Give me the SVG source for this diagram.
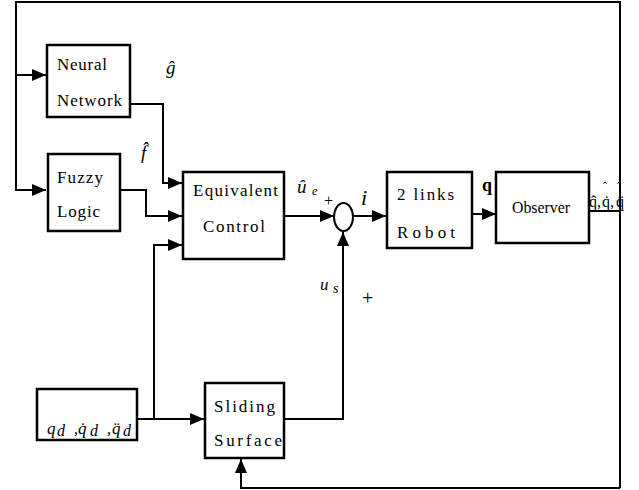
<svg xmlns="http://www.w3.org/2000/svg" width="639" height="490" viewBox="0 0 639 490">
<style>
.box{fill:#fff;stroke:#000;stroke-width:2.5}
.ln{fill:none;stroke:#000;stroke-width:2}
</style>
<defs>
<marker id="ah" markerUnits="userSpaceOnUse" markerWidth="16" markerHeight="14" refX="14" refY="6" orient="auto">
<path d="M0,0 L14,6 L0,12 Z" fill="#000"/>
</marker>
</defs>
<rect width="639" height="490" fill="#fff"/>
<g id="connectors">
<path class="ln" d="M620,488 V2 H16 V190 H46" marker-end="url(#ah)"/>
<path class="ln" d="M16,75 H46" marker-end="url(#ah)"/>
<path class="ln" d="M130,104 H163 V183 H182" marker-end="url(#ah)"/>
<path class="ln" d="M120,190 H146 V216 H182" marker-end="url(#ah)"/>
<path class="ln" d="M154,419 V245 H182" marker-end="url(#ah)"/>
<path class="ln" d="M137,419 H204" marker-end="url(#ah)"/>
<path class="ln" d="M284,419 H343 V232" marker-end="url(#ah)"/>
<path class="ln" d="M284,216 H334" marker-end="url(#ah)"/>
<path class="ln" d="M353,216 H386" marker-end="url(#ah)"/>
<path class="ln" d="M472,214 H496" marker-end="url(#ah)"/>
<path class="ln" d="M589,211 H620"/>
<path class="ln" d="M620,488 H241 V459" marker-end="url(#ah)"/>
</g>
<g font-family="'Liberation Serif', 'Times New Roman', serif" font-size="17" fill="#000">
<g id="neural">
<rect class="box" x="47" y="45" width="83" height="72"/>
<text x="57" y="70" textLength="50">Neural</text>
<text x="57" y="106" textLength="65">Network</text>
</g>
<g id="fuzzy">
<rect class="box" x="48" y="154" width="72" height="77"/>
<text x="57" y="183" textLength="46">Fuzzy</text>
<text x="57" y="217" textLength="43">Logic</text>
</g>
<g id="equivalent">
<rect class="box" x="183" y="172" width="101" height="87"/>
<text x="193" y="196" textLength="85">Equivalent</text>
<text x="203" y="232" textLength="62">Control</text>
</g>
<g id="sum">
<ellipse cx="343.5" cy="217" rx="9.5" ry="14" fill="#fff" stroke="#000" stroke-width="2"/>
</g>
<g id="robot">
<rect class="box" x="387" y="172" width="85" height="76"/>
<text x="397" y="200" textLength="57">2 links</text>
<text x="397" y="238" textLength="58">Robot</text>
</g>
<g id="observer">
<rect class="box" x="496" y="172" width="93" height="71"/>
<text x="512" y="213" textLength="58" lengthAdjust="spacingAndGlyphs">Observer</text>
</g>
<g id="sliding">
<rect class="box" x="205" y="383" width="79" height="75"/>
<text x="214" y="412" textLength="61">Sliding</text>
<text x="214" y="446" textLength="68">Surface</text>
</g>
<g id="reference" font-style="italic">
<rect class="box" x="37" y="389" width="100" height="51"/>
<text x="47" y="434">q</text>
<text x="57" y="436" font-size="16">d</text>
<text x="74" y="434" font-size="16">,</text>
<text x="78" y="434">q̇</text>
<text x="90" y="436" font-size="16">d</text>
<text x="107" y="434" font-size="16">,</text>
<text x="112" y="434">q̈</text>
<text x="123" y="436" font-size="16">d</text>
</g>
<g id="labels">
<text x="166" y="74" font-size="19" font-style="italic">ĝ</text>
<text x="141" y="159" font-size="19" font-style="italic">f̂</text>
<text x="297" y="193" font-size="19" font-style="italic">û</text>
<text x="312" y="195" font-size="12" font-style="italic">e</text>
<text x="324" y="206" font-size="16">+</text>
<text x="361" y="205" font-size="22" font-style="italic">i</text>
<text x="320" y="290" font-size="17" font-style="italic">u</text>
<text x="333" y="293" font-size="14" font-style="italic">s</text>
<text x="362" y="305" font-size="20">+</text>
<text x="482" y="191" font-size="18" font-weight="bold">q</text>
<text x="589" y="207" font-size="16">q̂,</text>
<text x="602" y="207" font-size="16">q̇,</text>
<text x="603" y="191" font-size="12">ˆ</text>
<text x="616" y="207" font-size="16">q̈</text>
<text x="617" y="191" font-size="12">ˆ</text>
</g>
</g>
</svg>
